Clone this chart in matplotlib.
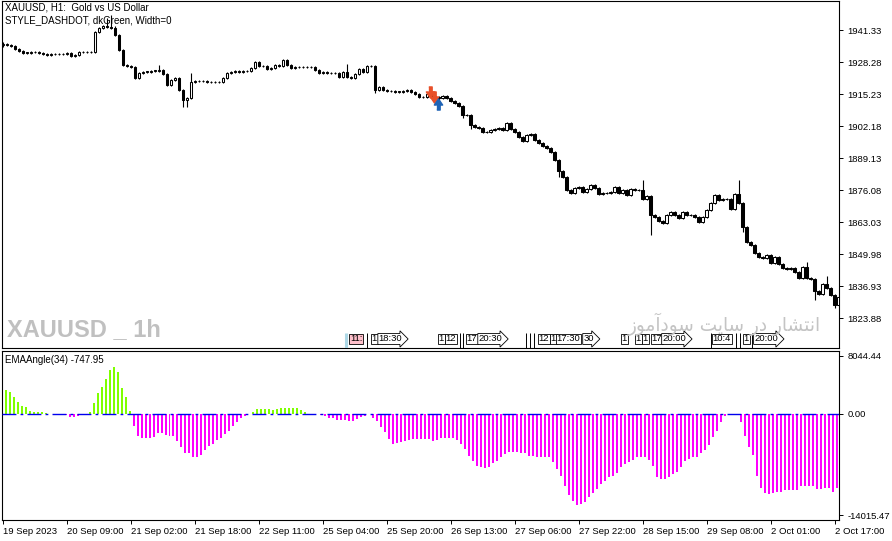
import numpy as np
import matplotlib
matplotlib.use('Agg')
import matplotlib.pyplot as plt
from matplotlib import font_manager as fm
from matplotlib.transforms import blended_transform_factory

plt.rcParams['font.family'] = ['Liberation Sans', 'DejaVu Sans']

# ---- data ----
first_open = 1935.20
close = [1935.62, 1935.21, 1934.81, 1933.58, 1932.89, 1932.07, 1932.07, 1932.36, 1932.36, 1931.83,
         1931.67, 1931.26, 1931.54, 1931.54, 1931.67, 1931.42, 1931.83, 1930.85, 1931.01, 1932.48,
         1932.24, 1932.24, 1932.36, 1940.64, 1942.02, 1942.96, 1942.55, 1942.35, 1939.29, 1933.17,
         1927.06, 1926.65, 1926.24, 1921.76, 1923.79, 1924.32, 1924.32, 1924.73, 1924.73, 1925.02,
         1923.39, 1918.90, 1920.94, 1921.76, 1916.86, 1912.78, 1913.60, 1920.12, 1920.53, 1920.53,
         1920.53, 1920.25, 1920.12, 1920.12, 1920.25, 1921.63, 1923.92, 1924.32, 1924.73, 1924.32,
         1924.61, 1924.73, 1925.71, 1928.40, 1926.65, 1926.65, 1925.43, 1925.71, 1927.06, 1926.77,
         1929.10, 1927.06, 1925.71, 1926.12, 1926.12, 1926.12, 1926.12, 1926.36, 1925.14, 1923.92,
         1924.32, 1923.92, 1923.67, 1923.67, 1922.29, 1924.32, 1922.29, 1921.76, 1923.39, 1925.30,
         1924.32, 1926.65, 1926.65, 1916.86, 1917.96, 1916.86, 1916.45, 1916.58, 1916.17, 1916.17,
         1916.58, 1916.86, 1916.05, 1915.23, 1914.01, 1914.01, 1915.11, 1914.41, 1914.01, 1913.60,
         1914.41, 1913.60, 1912.38, 1911.56, 1910.34, 1906.67, 1906.54, 1902.59, 1901.77, 1901.37,
         1899.73, 1899.86, 1900.55, 1900.96, 1901.24, 1900.55, 1903.28, 1900.84, 1899.61, 1897.82,
         1896.19, 1898.51, 1898.92, 1896.47, 1895.13, 1894.15, 1893.09, 1891.70, 1888.32, 1883.95,
         1881.51, 1876.08, 1874.86, 1876.77, 1877.43, 1875.39, 1876.49, 1878.12, 1876.90, 1874.45,
         1874.74, 1874.74, 1875.27, 1877.43, 1874.74, 1876.08, 1874.04, 1876.37, 1876.08, 1876.08,
         1872.29, 1873.63, 1865.89, 1864.95, 1863.56, 1862.50, 1865.89, 1867.23, 1865.89, 1864.66,
         1867.23, 1865.89, 1865.89, 1865.19, 1863.15, 1865.19, 1867.93, 1870.66, 1874.04, 1871.98,
         1872.39, 1872.39, 1868.21, 1874.45, 1870.90, 1861.11, 1855.00, 1853.65, 1850.27, 1848.88,
         1848.23, 1849.58, 1846.43, 1848.64, 1845.91, 1844.15, 1843.74, 1844.15, 1842.76, 1840.07,
         1844.80, 1840.07, 1839.66, 1835.02, 1833.67, 1837.75, 1835.99, 1833.26, 1829.19, 1832.57]

# candles with long shadows
high_over = {0: 1936.56, 26: 1946.2, 27: 1947.45, 28: 1942.55, 39: 1927.06, 47: 1923.92,
             86: 1927.46, 160: 1880.16, 184: 1880.16, 201: 1846.8, 206: 1840.98}
low_over = {0: 1934.52, 45: 1910.05, 46: 1910.05, 93: 1915.5, 109: 1910.74, 115: 1905.44,
            117: 1901.0, 139: 1881.5, 162: 1857.73, 185: 1859.08, 203: 1831.2, 208: 1827.8}

ema_angle = [3370, 3000, 2300, 1700, 1150, 920, 460, 230, 320, 320,
             140, 40, -100, -200, -200, -200, -400, -460, -320, -20,
             20, 230, 1480, 2870, 3790, 4850, 6100, 6560, 5780, 3600,
             2400, 460, -1620, -3000, -3370, -3330, -3370, -3240, -2680, -2590,
             -2960, -3000, -3050, -3700, -4620, -5460, -5460, -5920, -6010, -5690,
             -4990, -4480, -4160, -3610, -3330, -2770, -2310, -1710, -1150, -550,
             -280, -30, 320, 690, 740, 740, 740, 600, 740, 830,
             880, 880, 830, 790, 550, 320, 20, 10, -20, -180,
             -320, -550, -600, -830, -830, -830, -1020, -1020, -690, -460,
             -280, -40, -550, -1020, -1850, -2540, -3470, -4160, -4020, -3930,
             -3790, -3610, -3510, -3510, -3510, -3510, -3510, -3790, -3610, -3330,
             -3330, -3330, -3330, -3600, -4160, -4850, -5780, -6470, -7160, -7300,
             -7530, -7390, -6840, -6560, -5910, -5540, -5220, -5220, -5220, -5450,
             -5450, -5780, -5780, -5910, -5910, -5910, -6010, -6700, -7620, -8640,
             -9930, -11180, -12100, -12570, -12470, -12240, -11550, -11000, -10400, -9700,
             -9240, -8780, -8550, -8220, -7390, -6930, -6700, -6380, -6010, -5910,
             -6010, -6380, -7160, -8690, -9010, -9010, -8780, -8320, -8090, -7300,
             -6560, -6240, -6010, -5910, -5450, -4990, -4250, -3230, -2310, -1060,
             -320, -90, 50, 0, -1150, -3000, -4620, -5680, -8550, -10300,
             -11000, -11090, -10950, -10860, -10860, -10490, -10490, -10490, -10530, -10030,
             -9930, -9930, -10030, -10400, -10400, -10300, -10300, -10860, -10300]

price_ticks = [1941.33, 1928.28, 1915.23, 1902.18, 1889.13, 1876.08, 1863.03, 1849.98, 1836.93, 1823.88]
time_labels = ['19 Sep 2023', '20 Sep 09:00', '21 Sep 02:00', '21 Sep 18:00', '22 Sep 11:00',
               '25 Sep 04:00', '25 Sep 20:00', '26 Sep 13:00', '27 Sep 06:00', '27 Sep 22:00',
               '28 Sep 15:00', '29 Sep 08:00', '2 Oct 01:00', '2 Oct 17:00']
time_label_bars = [0, 16, 32, 48, 64, 80, 96, 112, 128, 144, 160, 176, 192, 208]

# signal arrows (bar, price)
sell_x = [106.75, 107.9]
sell_y = [1916.05, 1914.0]
buy_x = [108.9]
buy_y = [1911.35]

# calendar event tags along the bottom of the price window
ev_x = [86.75, 92.25, 94.0, 109.0, 110.75, 116.0, 119.0, 134.0, 137.0, 138.5, 145.25,
        154.75, 158.25, 160.0, 162.25, 165.0, 177.5, 185.25, 188.0]
ev_txt = ['11:', '1', '18:30', '1', '12', '17', '20:30', '12', '1', '17:30', '30',
          '1', '1', '1', '17', '20:00', '10:4', '1', '20:00']
ev_arrow = ['18:30', '20:30', '30', '20:00']
ev_lines = [91.0, 114.25, 115.0, 130.75, 131.75, 132.75, 177.0, 183.25, 184.25, 187.25]

# ---- figure ----
W, H = 892, 541
fig = plt.figure(figsize=(W / 100, H / 100), dpi=100)
fig.patch.set_facecolor('white')


def fx(px):
    return px / W


def fy(py):
    return 1 - py / H


ax = fig.add_axes([fx(2), fy(348), fx(839) - fx(2), fy(1) - fy(348)])
ax2 = fig.add_axes([fx(2), fy(520), fx(839) - fx(2), fy(351) - fy(520)], sharex=ax)

close = np.array(close)
idx = np.arange(len(close))
opens = np.r_[first_open, close[:-1]]
body_lo = np.minimum(opens, close)
body_hi = np.maximum(opens, close)
high = body_hi + 0.45
low = body_lo - 0.45
for k, v in high_over.items():
    high[k] = max(high[k], v)
for k, v in low_over.items():
    low[k] = min(low[k], v)

ax.vlines(idx, low, high, color='black', lw=0.8, zorder=2)
ax.bar(idx, np.maximum(body_hi - body_lo, 0.2), bottom=body_lo, width=0.62,
       color=np.where(close >= opens, 'white', 'black'), edgecolor='black',
       linewidth=0.75, zorder=3)

arrow_down = [(-0.3, 1), (0.3, 1), (0.3, 0.1), (0.75, 0.1), (0, -1), (-0.75, 0.1), (-0.3, 0.1)]
arrow_up = [(x, -y) for x, y in arrow_down]
ax.plot(sell_x, sell_y, ls='none', marker=arrow_down, ms=8, color='#e8502a', zorder=4)
ax.plot(buy_x, buy_y, ls='none', marker=arrow_up, ms=8, color='#1f63b5', zorder=4)

ax.set_xlim(-0.25, 209.125)
ax.set_ylim(1811.65, 1953.16)
ax.yaxis.tick_right()
ax.set_yticks(price_ticks)
ax.set_yticklabels([f'{t:.2f}' for t in price_ticks])
ax.tick_params(axis='y', direction='out', length=3, width=0.7, pad=3, labelsize=6.8)
ax.tick_params(axis='x', bottom=False, labelbottom=False)

# chart header, drawn under the candles
ax.text(3 / 837, 1 - 7 / 347, 'XAUUSD, H1:  Gold vs US Dollar', transform=ax.transAxes,
        fontsize=7, va='center', zorder=1)
ax.text(3 / 837, 1 - 19 / 347, 'STYLE_DASHDOT, dkGreen, Width=0', transform=ax.transAxes,
        fontsize=7, va='center', zorder=1)

# event tags
trans = blended_transform_factory(ax.transData, ax.transAxes)
for x, t in zip(ev_x, ev_txt):
    style = 'rarrow,pad=0.1' if t in ev_arrow else 'square,pad=0.1'
    fc = '#ffc0cb' if t == '11:' else 'white'
    ax.text(x, 0.026, t, transform=trans, fontsize=6.8, ha='left', va='center',
            bbox=dict(boxstyle=style, fc=fc, ec='black', lw=0.6), zorder=5)
ax.vlines(ev_lines, 0, 0.043, transform=trans, color='black', lw=0.7, zorder=5)
ax.vlines([85.75], 0, 0.043, transform=trans, color='#add8e6', lw=2.2, zorder=5)

# indicator window
ema_angle = np.array(ema_angle)
hx = np.arange(len(ema_angle)) + 0.65
ax2.bar(hx, ema_angle, width=0.5, color=np.where(ema_angle >= 0, '#7fff00', '#ff00ff'),
        linewidth=0, zorder=2)
ax2.axhline(0, color='#0000ee', lw=1.0, ls=(0, (10, 3, 2, 3)), zorder=3)
ax2.set_ylim(-14709, 8738)
ax2.yaxis.tick_right()
ax2.set_yticks([8044.44, 0, -14015.47])
ax2.set_yticklabels(['8044.44', '0.00', '-14015.47'])
ax2.tick_params(axis='y', direction='out', length=3, width=0.7, pad=3, labelsize=6.8)
ax2.set_xticks(time_label_bars)
ax2.set_xticklabels(time_labels)
ax2.tick_params(axis='x', direction='out', length=3, width=0.7, pad=2, labelsize=6.8)
for lab in ax2.get_xticklabels():
    lab.set_ha('left')
ax2.text(3 / 837, 1 - 9 / 169, 'EMAAngle(34) -747.95', transform=ax2.transAxes,
         fontsize=7, va='center', zorder=1)

for a in (ax, ax2):
    for s in a.spines.values():
        s.set_linewidth(0.8)
        s.set_color('black')

# watermarks
names = {f.name for f in fm.fontManager.ttflist}
wm_font = 'Liberation Sans Narrow' if 'Liberation Sans Narrow' in names else 'Liberation Sans'
wm = fig.text(fx(7), fy(330), 'XAUUSD _ 1h', family=wm_font, weight='bold', fontsize=16,
              color='#c0c0c0', va='center', ha='left')
# "انتشار در سایت سودآموز" in shaped glyphs, visual order
fa_logical = ('\uFE8D\uFEE7\uFE98\uFEB8\uFE8E\uFEAD' + ' ' + '\uFEA9\uFEAD' + ' ' +
              '\uFEB3\uFE8E\uFEF3\uFE96' + ' ' + '\uFEB3\uFEEE\uFEA9\uFE81\uFEE3\uFEEE\uFEAF')
fa = fig.text(fx(628), fy(324), fa_logical[::-1], family='DejaVu Sans', fontsize=14,
              color='#c4c4c4', va='center', ha='left')

fig.canvas.draw()
r = fig.canvas.get_renderer()
for t, target in ((wm, 154), (fa, 195)):
    bb = t.get_window_extent(r)
    t.set_fontsize(t.get_fontsize() * target / bb.width)

fig.savefig('out.png', dpi=100, facecolor='white')
